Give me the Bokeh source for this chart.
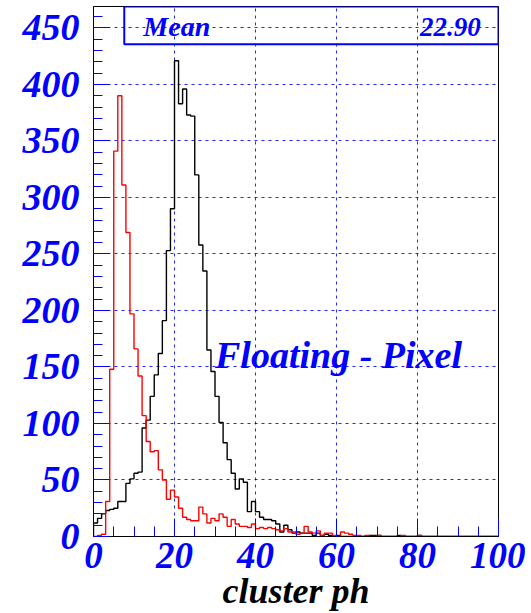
from bokeh.plotting import figure
from bokeh.models import Range1d, FixedTicker, BoxAnnotation, Label
from bokeh.embed import file_html
from bokeh.resources import INLINE

# ---- data (bin contents, bins of width 1 from 0 to 100) ----
bin_edges = list(range(0, 101))
black_counts = [12, 16, 20, 23, 24, 25, 31, 31, 47, 51,
                56, 57, 96, 103, 124, 143, 162, 191, 253, 290,
                421, 383, 396, 373, 372, 320, 258, 235, 165, 146,
                124, 101, 83, 68, 56, 42, 51, 48, 22, 31,
                22, 17, 15, 15, 14, 11, 4, 10, 6, 3,
                4, 3, 3, 3, 1, 3, 1, 2, 1, 0,
                1, 0, 0, 0, 0, 0, 0, 0, 1, 1,
                1, 0, 0, 0, 0, 1, 0, 0, 0, 0,
                1, 0, 0, 0, 0, 0, 0, 0, 0, 0,
                0, 0, 0, 0, 0, 0, 0, 0, 0, 0]
red_counts = [0, 1, 2, 31, 148, 341, 390, 311, 269, 197,
              166, 142, 107, 84, 75, 76, 59, 50, 33, 41,
              35, 25, 17, 15, 14, 14, 26, 20, 12, 16,
              14, 20, 17, 9, 15, 11, 9, 9, 8, 11,
              7, 8, 7, 8, 7, 6, 5, 7, 4, 4,
              2, 3, 9, 4, 3, 5, 1, 3, 3, 1,
              0, 4, 3, 2, 1, 1, 0, 1, 0, 0,
              1, 0, 0, 0, 0, 0, 1, 0, 0, 0,
              1, 0, 0, 0, 0, 0, 0, 0, 0, 0,
              0, 0, 0, 0, 0, 0, 0, 0, 0, 0]
x_ticks = [0, 20, 40, 60, 80, 100]
y_ticks = [0, 50, 100, 150, 200, 250, 300, 350, 400, 450]
stat_name = "Mean"
stat_value = "22.90"
annotation_text = "Floating - Pixel"
x_title = "cluster ph"

BLUE = "#0000ff"
FONT = "Liberation Serif"

p = figure(width=525, height=613, output_backend="svg", toolbar_location=None,
           x_range=Range1d(0, 100), y_range=Range1d(0, 469),
           min_border_left=93, min_border_right=27, min_border_top=6,
           min_border_bottom=77)
p.background_fill_color = "white"
p.border_fill_color = "white"
p.outline_line_color = "black"
p.outline_line_width = 1

# axes
for ax in (p.xaxis, p.yaxis):
    ax.axis_line_color = "black"
    ax.major_tick_line_color = BLUE
    ax.minor_tick_line_color = BLUE
    ax.major_tick_out = 0
    ax.minor_tick_out = 0
    ax.major_label_text_color = BLUE
    ax.major_label_text_font = FONT
    ax.major_label_text_font_style = "bold italic"
    ax.major_label_text_font_size = "37px"
p.yaxis.major_label_text_font_size = "38px"

p.xaxis.ticker = FixedTicker(ticks=x_ticks, minor_ticks=list(range(0, 101, 5)))
p.yaxis.ticker = FixedTicker(ticks=y_ticks, minor_ticks=list(range(0, 461, 10)))
p.xaxis.major_tick_in = 18
p.xaxis.minor_tick_in = 10
p.yaxis.major_tick_in = 16
p.yaxis.minor_tick_in = 9
p.xaxis.major_label_standoff = 6
p.yaxis.major_label_standoff = 14

p.xaxis.axis_label = x_title
p.xaxis.axis_label_text_font = FONT
p.xaxis.axis_label_text_font_style = "bold italic"
p.xaxis.axis_label_text_font_size = "36px"
p.xaxis.axis_label_text_color = "black"
p.xaxis.axis_label_standoff = 0

# grid
for g in (p.xgrid, p.ygrid):
    g.grid_line_color = BLUE
    g.grid_line_dash = "3 4"
    g.grid_line_width = 1
    g.grid_line_alpha = 0.85
p.xgrid.ticker = FixedTicker(ticks=x_ticks)
p.ygrid.ticker = FixedTicker(ticks=y_ticks)

# histograms as steps
xs = [bin_edges[0]] + bin_edges
yb = [0] + black_counts + [black_counts[-1]]
yr = [0] + red_counts + [red_counts[-1]]
p.step(xs, yb, mode="after", line_color="black", line_width=1.4)
p.step(xs, yr, mode="after", line_color="#ff0000", line_width=1.4)

# stats box
box = BoxAnnotation(left=7.6, right=100, bottom=435.5, top=469,
                    fill_alpha=0, line_color=BLUE, line_alpha=1.0, line_width=2)
p.add_layout(box)
p.add_layout(Label(x=12.3, y=451, text=stat_name, text_font=FONT,
                   text_font_style="bold italic", text_font_size="28px",
                   text_color=BLUE, text_baseline="middle", text_align="left"))
p.add_layout(Label(x=95.6, y=451, text=stat_value, text_font=FONT,
                   text_font_style="bold italic", text_font_size="27px",
                   text_color=BLUE, text_baseline="middle", text_align="right"))
p.add_layout(Label(x=30.0, y=161, text=annotation_text, text_font=FONT,
                   text_font_style="bold italic", text_font_size="38px",
                   text_color=BLUE, text_baseline="alphabetic", text_align="left"))

open("out.html", "w").write(file_html(p, INLINE))
